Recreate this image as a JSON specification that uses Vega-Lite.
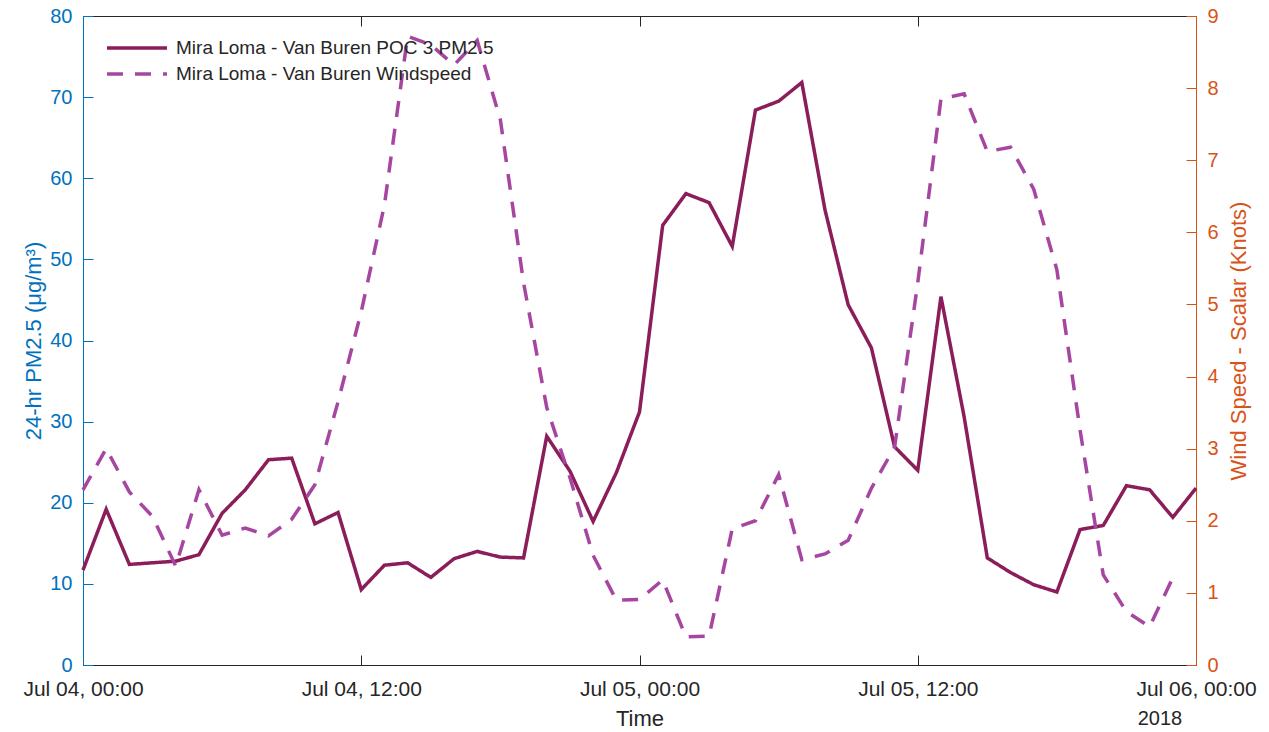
{
  "$schema": "https://vega.github.io/schema/vega-lite/v6.json",
  "width": 1113,
  "height": 649,
  "autosize": {"type": "none"},
  "padding": {"left": 83, "top": 16, "right": 73, "bottom": 67},
  "background": "white",
  "config": {
    "font": "Liberation Sans",
    "view": {"stroke": "#262626", "strokeWidth": 1},
    "axis": {
      "grid": false,
      "labelFont": "Liberation Sans",
      "titleFont": "Liberation Sans",
      "titleFontWeight": "normal",
      "labelFontSize": 20,
      "titleFontSize": 22,
      "tickSize": -10,
      "tickWidth": 1,
      "domainWidth": 1
    }
  },
  "title": {
    "text": "2018",
    "orient": "bottom",
    "anchor": "end",
    "fontSize": 20,
    "fontWeight": "normal",
    "font": "Liberation Sans",
    "color": "#262626",
    "offset": -20,
    "dx": -74
  },
  "data": {
    "values": [
      {"time": "2018-07-04T00:00:00", "series": "Mira Loma - Van Buren POC 3 PM2.5", "value": 11.7},
      {"time": "2018-07-04T01:00:00", "series": "Mira Loma - Van Buren POC 3 PM2.5", "value": 19.2},
      {"time": "2018-07-04T02:00:00", "series": "Mira Loma - Van Buren POC 3 PM2.5", "value": 12.4},
      {"time": "2018-07-04T03:00:00", "series": "Mira Loma - Van Buren POC 3 PM2.5", "value": 12.6},
      {"time": "2018-07-04T04:00:00", "series": "Mira Loma - Van Buren POC 3 PM2.5", "value": 12.8},
      {"time": "2018-07-04T05:00:00", "series": "Mira Loma - Van Buren POC 3 PM2.5", "value": 13.6},
      {"time": "2018-07-04T06:00:00", "series": "Mira Loma - Van Buren POC 3 PM2.5", "value": 18.7},
      {"time": "2018-07-04T07:00:00", "series": "Mira Loma - Van Buren POC 3 PM2.5", "value": 21.6},
      {"time": "2018-07-04T08:00:00", "series": "Mira Loma - Van Buren POC 3 PM2.5", "value": 25.3},
      {"time": "2018-07-04T09:00:00", "series": "Mira Loma - Van Buren POC 3 PM2.5", "value": 25.5},
      {"time": "2018-07-04T10:00:00", "series": "Mira Loma - Van Buren POC 3 PM2.5", "value": 17.4},
      {"time": "2018-07-04T11:00:00", "series": "Mira Loma - Van Buren POC 3 PM2.5", "value": 18.8},
      {"time": "2018-07-04T12:00:00", "series": "Mira Loma - Van Buren POC 3 PM2.5", "value": 9.3},
      {"time": "2018-07-04T13:00:00", "series": "Mira Loma - Van Buren POC 3 PM2.5", "value": 12.3},
      {"time": "2018-07-04T14:00:00", "series": "Mira Loma - Van Buren POC 3 PM2.5", "value": 12.6},
      {"time": "2018-07-04T15:00:00", "series": "Mira Loma - Van Buren POC 3 PM2.5", "value": 10.8},
      {"time": "2018-07-04T16:00:00", "series": "Mira Loma - Van Buren POC 3 PM2.5", "value": 13.1},
      {"time": "2018-07-04T17:00:00", "series": "Mira Loma - Van Buren POC 3 PM2.5", "value": 14.0},
      {"time": "2018-07-04T18:00:00", "series": "Mira Loma - Van Buren POC 3 PM2.5", "value": 13.3},
      {"time": "2018-07-04T19:00:00", "series": "Mira Loma - Van Buren POC 3 PM2.5", "value": 13.2},
      {"time": "2018-07-04T20:00:00", "series": "Mira Loma - Van Buren POC 3 PM2.5", "value": 28.2},
      {"time": "2018-07-04T21:00:00", "series": "Mira Loma - Van Buren POC 3 PM2.5", "value": 23.9},
      {"time": "2018-07-04T22:00:00", "series": "Mira Loma - Van Buren POC 3 PM2.5", "value": 17.7},
      {"time": "2018-07-04T23:00:00", "series": "Mira Loma - Van Buren POC 3 PM2.5", "value": 23.7},
      {"time": "2018-07-05T00:00:00", "series": "Mira Loma - Van Buren POC 3 PM2.5", "value": 31.2},
      {"time": "2018-07-05T01:00:00", "series": "Mira Loma - Van Buren POC 3 PM2.5", "value": 54.2},
      {"time": "2018-07-05T02:00:00", "series": "Mira Loma - Van Buren POC 3 PM2.5", "value": 58.1},
      {"time": "2018-07-05T03:00:00", "series": "Mira Loma - Van Buren POC 3 PM2.5", "value": 57.0},
      {"time": "2018-07-05T04:00:00", "series": "Mira Loma - Van Buren POC 3 PM2.5", "value": 51.6},
      {"time": "2018-07-05T05:00:00", "series": "Mira Loma - Van Buren POC 3 PM2.5", "value": 68.4},
      {"time": "2018-07-05T06:00:00", "series": "Mira Loma - Van Buren POC 3 PM2.5", "value": 69.5},
      {"time": "2018-07-05T07:00:00", "series": "Mira Loma - Van Buren POC 3 PM2.5", "value": 71.8},
      {"time": "2018-07-05T08:00:00", "series": "Mira Loma - Van Buren POC 3 PM2.5", "value": 56.1},
      {"time": "2018-07-05T09:00:00", "series": "Mira Loma - Van Buren POC 3 PM2.5", "value": 44.4},
      {"time": "2018-07-05T10:00:00", "series": "Mira Loma - Van Buren POC 3 PM2.5", "value": 39.1},
      {"time": "2018-07-05T11:00:00", "series": "Mira Loma - Van Buren POC 3 PM2.5", "value": 26.9},
      {"time": "2018-07-05T12:00:00", "series": "Mira Loma - Van Buren POC 3 PM2.5", "value": 24.0},
      {"time": "2018-07-05T13:00:00", "series": "Mira Loma - Van Buren POC 3 PM2.5", "value": 45.4},
      {"time": "2018-07-05T14:00:00", "series": "Mira Loma - Van Buren POC 3 PM2.5", "value": 30.6},
      {"time": "2018-07-05T15:00:00", "series": "Mira Loma - Van Buren POC 3 PM2.5", "value": 13.2},
      {"time": "2018-07-05T16:00:00", "series": "Mira Loma - Van Buren POC 3 PM2.5", "value": 11.4},
      {"time": "2018-07-05T17:00:00", "series": "Mira Loma - Van Buren POC 3 PM2.5", "value": 9.9},
      {"time": "2018-07-05T18:00:00", "series": "Mira Loma - Van Buren POC 3 PM2.5", "value": 9.0},
      {"time": "2018-07-05T19:00:00", "series": "Mira Loma - Van Buren POC 3 PM2.5", "value": 16.7},
      {"time": "2018-07-05T20:00:00", "series": "Mira Loma - Van Buren POC 3 PM2.5", "value": 17.2},
      {"time": "2018-07-05T21:00:00", "series": "Mira Loma - Van Buren POC 3 PM2.5", "value": 22.1},
      {"time": "2018-07-05T22:00:00", "series": "Mira Loma - Van Buren POC 3 PM2.5", "value": 21.6},
      {"time": "2018-07-05T23:00:00", "series": "Mira Loma - Van Buren POC 3 PM2.5", "value": 18.2},
      {"time": "2018-07-06T00:00:00", "series": "Mira Loma - Van Buren POC 3 PM2.5", "value": 21.8},
      {"time": "2018-07-04T00:00:00", "series": "Mira Loma - Van Buren Windspeed", "value": 2.43},
      {"time": "2018-07-04T01:00:00", "series": "Mira Loma - Van Buren Windspeed", "value": 3.0},
      {"time": "2018-07-04T02:00:00", "series": "Mira Loma - Van Buren Windspeed", "value": 2.4},
      {"time": "2018-07-04T03:00:00", "series": "Mira Loma - Van Buren Windspeed", "value": 2.06},
      {"time": "2018-07-04T04:00:00", "series": "Mira Loma - Van Buren Windspeed", "value": 1.37},
      {"time": "2018-07-04T05:00:00", "series": "Mira Loma - Van Buren Windspeed", "value": 2.43},
      {"time": "2018-07-04T06:00:00", "series": "Mira Loma - Van Buren Windspeed", "value": 1.8},
      {"time": "2018-07-04T07:00:00", "series": "Mira Loma - Van Buren Windspeed", "value": 1.9},
      {"time": "2018-07-04T08:00:00", "series": "Mira Loma - Van Buren Windspeed", "value": 1.79},
      {"time": "2018-07-04T09:00:00", "series": "Mira Loma - Van Buren Windspeed", "value": 2.02},
      {"time": "2018-07-04T10:00:00", "series": "Mira Loma - Van Buren Windspeed", "value": 2.5},
      {"time": "2018-07-04T11:00:00", "series": "Mira Loma - Van Buren Windspeed", "value": 3.65},
      {"time": "2018-07-04T12:00:00", "series": "Mira Loma - Van Buren Windspeed", "value": 4.9},
      {"time": "2018-07-04T13:00:00", "series": "Mira Loma - Van Buren Windspeed", "value": 6.38},
      {"time": "2018-07-04T14:00:00", "series": "Mira Loma - Van Buren Windspeed", "value": 8.72},
      {"time": "2018-07-04T15:00:00", "series": "Mira Loma - Van Buren Windspeed", "value": 8.6},
      {"time": "2018-07-04T16:00:00", "series": "Mira Loma - Van Buren Windspeed", "value": 8.32},
      {"time": "2018-07-04T17:00:00", "series": "Mira Loma - Van Buren Windspeed", "value": 8.66},
      {"time": "2018-07-04T18:00:00", "series": "Mira Loma - Van Buren Windspeed", "value": 7.56},
      {"time": "2018-07-04T19:00:00", "series": "Mira Loma - Van Buren Windspeed", "value": 5.3},
      {"time": "2018-07-04T20:00:00", "series": "Mira Loma - Van Buren Windspeed", "value": 3.57},
      {"time": "2018-07-04T21:00:00", "series": "Mira Loma - Van Buren Windspeed", "value": 2.6},
      {"time": "2018-07-04T22:00:00", "series": "Mira Loma - Van Buren Windspeed", "value": 1.52},
      {"time": "2018-07-04T23:00:00", "series": "Mira Loma - Van Buren Windspeed", "value": 0.9},
      {"time": "2018-07-05T00:00:00", "series": "Mira Loma - Van Buren Windspeed", "value": 0.91},
      {"time": "2018-07-05T01:00:00", "series": "Mira Loma - Van Buren Windspeed", "value": 1.18},
      {"time": "2018-07-05T02:00:00", "series": "Mira Loma - Van Buren Windspeed", "value": 0.39},
      {"time": "2018-07-05T03:00:00", "series": "Mira Loma - Van Buren Windspeed", "value": 0.4},
      {"time": "2018-07-05T04:00:00", "series": "Mira Loma - Van Buren Windspeed", "value": 1.89},
      {"time": "2018-07-05T05:00:00", "series": "Mira Loma - Van Buren Windspeed", "value": 2.0},
      {"time": "2018-07-05T06:00:00", "series": "Mira Loma - Van Buren Windspeed", "value": 2.64},
      {"time": "2018-07-05T07:00:00", "series": "Mira Loma - Van Buren Windspeed", "value": 1.46},
      {"time": "2018-07-05T08:00:00", "series": "Mira Loma - Van Buren Windspeed", "value": 1.54},
      {"time": "2018-07-05T09:00:00", "series": "Mira Loma - Van Buren Windspeed", "value": 1.73},
      {"time": "2018-07-05T10:00:00", "series": "Mira Loma - Van Buren Windspeed", "value": 2.45},
      {"time": "2018-07-05T11:00:00", "series": "Mira Loma - Van Buren Windspeed", "value": 3.02},
      {"time": "2018-07-05T12:00:00", "series": "Mira Loma - Van Buren Windspeed", "value": 5.3},
      {"time": "2018-07-05T13:00:00", "series": "Mira Loma - Van Buren Windspeed", "value": 7.85},
      {"time": "2018-07-05T14:00:00", "series": "Mira Loma - Van Buren Windspeed", "value": 7.92},
      {"time": "2018-07-05T15:00:00", "series": "Mira Loma - Van Buren Windspeed", "value": 7.12},
      {"time": "2018-07-05T16:00:00", "series": "Mira Loma - Van Buren Windspeed", "value": 7.18},
      {"time": "2018-07-05T17:00:00", "series": "Mira Loma - Van Buren Windspeed", "value": 6.6},
      {"time": "2018-07-05T18:00:00", "series": "Mira Loma - Van Buren Windspeed", "value": 5.48},
      {"time": "2018-07-05T19:00:00", "series": "Mira Loma - Van Buren Windspeed", "value": 3.26},
      {"time": "2018-07-05T20:00:00", "series": "Mira Loma - Van Buren Windspeed", "value": 1.25},
      {"time": "2018-07-05T21:00:00", "series": "Mira Loma - Van Buren Windspeed", "value": 0.74},
      {"time": "2018-07-05T22:00:00", "series": "Mira Loma - Van Buren Windspeed", "value": 0.53},
      {"time": "2018-07-05T23:00:00", "series": "Mira Loma - Van Buren Windspeed", "value": 1.21}
    ]
  },
  "layer": [
    {
      "transform": [{"filter": "datum.series === 'Mira Loma - Van Buren POC 3 PM2.5'"}],
      "mark": {"type": "line", "strokeWidth": 3.5, "strokeJoin": "miter"},
      "encoding": {
        "x": {
          "field": "time",
          "type": "temporal",
          "scale": {"domain": [{"year": 2018, "month": 7, "date": 4, "hours": 0}, {"year": 2018, "month": 7, "date": 6, "hours": 0}]},
          "axis": {
            "orient": "bottom",
            "title": "Time",
            "format": "%b %d, %H:%M",
            "values": [
              {"year": 2018, "month": 7, "date": 4, "hours": 0},
              {"year": 2018, "month": 7, "date": 4, "hours": 12},
              {"year": 2018, "month": 7, "date": 5, "hours": 0},
              {"year": 2018, "month": 7, "date": 5, "hours": 12},
              {"year": 2018, "month": 7, "date": 6, "hours": 0}
            ],
            "labelFontSize": 21,
            "labelFlush": false,
            "labelOverlap": false,
            "labelBound": false,
            "labelPadding": 23,
            "labelColor": "#262626",
            "titleColor": "#262626",
            "titlePadding": 9,
            "tickColor": "#262626",
            "domainColor": "#262626"
          }
        },
        "y": {
          "field": "value",
          "type": "quantitative",
          "scale": {"domain": [0, 80], "nice": false},
          "axis": {
            "orient": "left",
            "title": "24-hr PM2.5 (μg/m³)",
            "values": [0, 10, 20, 30, 40, 50, 60, 70, 80],
            "labelPadding": 21,
            "labelColor": "#0072BD",
            "titleColor": "#0072BD",
            "tickColor": "#0072BD",
            "domainColor": "#0072BD",
            "titlePadding": 4
          }
        },
        "color": {
          "field": "series",
          "type": "nominal",
          "scale": {
            "domain": ["Mira Loma - Van Buren POC 3 PM2.5", "Mira Loma - Van Buren Windspeed"],
            "range": ["#8A1D5A", "#A646A0"]
          },
          "legend": {
            "title": null,
            "orient": "none",
            "legendX": 42,
            "legendY": 20,
            "symbolType": "M-3,0H3",
            "symbolSize": 400,
            "symbolStrokeWidth": 3.5,
            "symbolFillColor": "transparent",
            "labelFont": "Liberation Sans",
            "labelFontSize": 19,
            "labelColor": "#262626",
            "labelLimit": 600,
            "labelOffset": 27,
            "rowPadding": 4,
            "padding": 0
          }
        },
        "strokeDash": {
          "field": "series",
          "type": "nominal",
          "scale": {
            "domain": ["Mira Loma - Van Buren POC 3 PM2.5", "Mira Loma - Van Buren Windspeed"],
            "range": [[1, 0], [16, 12]]
          },
          "legend": null
        }
      }
    },
    {
      "transform": [{"filter": "datum.series === 'Mira Loma - Van Buren Windspeed'"}],
      "mark": {"type": "line", "strokeWidth": 3.5, "strokeJoin": "miter"},
      "encoding": {
        "x": {
          "field": "time",
          "type": "temporal",
          "axis": {
            "orient": "top",
            "title": null,
            "labels": false,
            "domain": false,
            "values": [
              {"year": 2018, "month": 7, "date": 4, "hours": 0},
              {"year": 2018, "month": 7, "date": 4, "hours": 12},
              {"year": 2018, "month": 7, "date": 5, "hours": 0},
              {"year": 2018, "month": 7, "date": 5, "hours": 12},
              {"year": 2018, "month": 7, "date": 6, "hours": 0}
            ],
            "tickColor": "#262626"
          }
        },
        "y": {
          "field": "value",
          "type": "quantitative",
          "scale": {"domain": [0, 9], "nice": false},
          "axis": {
            "orient": "right",
            "title": "Wind Speed - Scalar (Knots)",
            "titleAngle": 270,
            "titleBaseline": "top",
            "values": [0, 1, 2, 3, 4, 5, 6, 7, 8, 9],
            "labelPadding": 21,
            "labelColor": "#D95319",
            "titleColor": "#D95319",
            "tickColor": "#D95319",
            "domainColor": "#D95319",
            "titlePadding": 10
          }
        },
        "color": {"field": "series", "type": "nominal"},
        "strokeDash": {"field": "series", "type": "nominal"}
      }
    }
  ],
  "resolve": {"scale": {"y": "independent"}, "axis": {"x": "independent", "y": "independent"}}
}
